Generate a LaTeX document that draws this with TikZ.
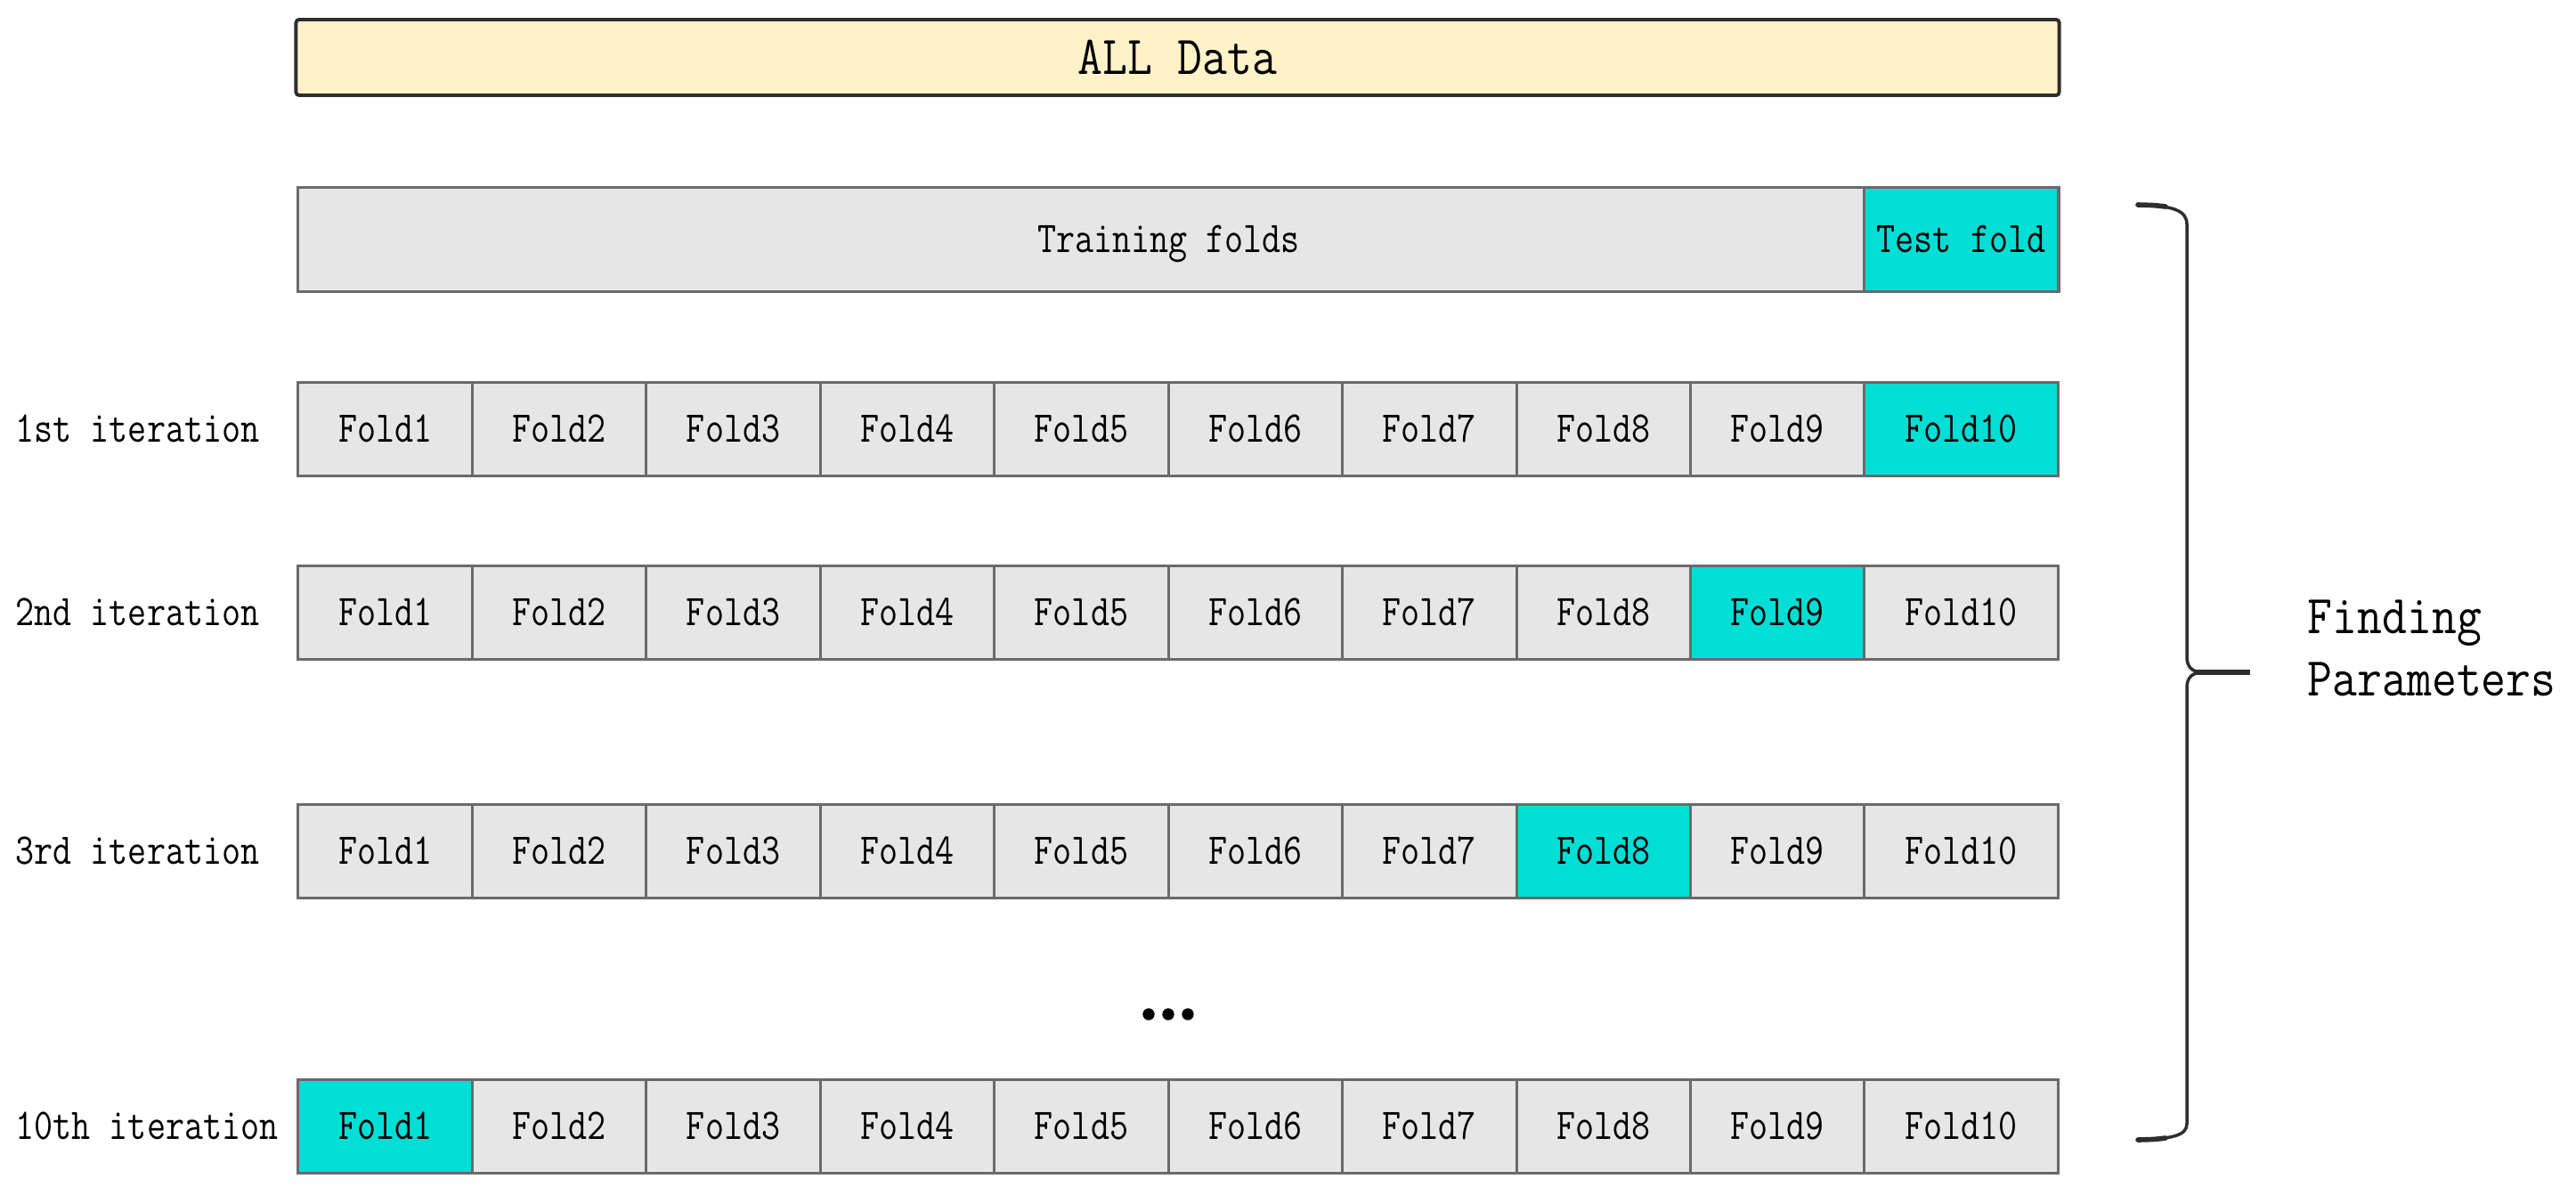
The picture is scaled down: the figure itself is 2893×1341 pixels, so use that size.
\documentclass[tikz,border=0pt]{standalone}
\usepackage{fontspec}
\usepackage{graphicx}
\definecolor{foldgray}{HTML}{E6E6E6}
\definecolor{edgegray}{HTML}{6A6A6A}
\definecolor{testcyan}{HTML}{00DED6}
\definecolor{alldatafill}{HTML}{FFF2C8}
\definecolor{inkdark}{HTML}{2E2E2E}
\newcommand{\ctxt}[1]{\scalebox{0.83}[1]{#1}}
\newcommand{\cbig}[1]{\scalebox{0.88}[1]{#1}}
\tikzset{
  txt/.style={font=\ttfamily\addfontfeature{FakeBold=0.7}\fontsize{14pt}{16pt}\selectfont, text height=8.5pt, text depth=0pt, inner sep=0pt},
  bigtxt/.style={font=\ttfamily\addfontfeature{FakeBold=0.5}\fontsize{17.5pt}{19.9pt}\selectfont, inner sep=0pt},
  cell/.style={txt, draw=edgegray, line width=0.85pt, minimum height=1.05cm, outer sep=0pt},
}
\begin{document}
\begin{tikzpicture}[x=0.01cm,y=-0.01cm]
\useasboundingbox (0,0) rectangle (2893,1341);
% All data
\node[bigtxt, text height=10.7pt, text depth=0pt, draw=inkdark, line width=1.1pt, rounded corners=1pt,
      fill=alldatafill, minimum width=19.79cm, minimum height=0.85cm] (all) at (1322.5,64.5) {\cbig{ALL Data}};
% Training / test folds
\node[cell, fill=foldgray, minimum width=19.77cm, minimum height=1.16cm] (train) at (1323.5,269) {\ctxt{Training folds}\hspace*{0.22cm}};
\node[cell, fill=testcyan, minimum width=2.17cm, minimum height=1.16cm] (testf) at (2202.5,269) {\ctxt{Test fold}};
% Iteration rows
\foreach \r/\yc/\hl/\lab in {1/482/10/1st iteration, 2/688/9/2nd iteration, 3/956/8/3rd iteration, 10/1265/1/10th iteration}{
  \node[txt, anchor=west] (lab\r) at (17,\yc) {\ctxt{\lab}};
  \foreach \i in {1,...,10}{
    \ifnum\i=\hl \def\fc{testcyan}\else \def\fc{foldgray}\fi
    \ifnum\i<10
      \pgfmathsetmacro{\xc}{335+(\i-0.5)*195.44}
      \node[cell, fill=\fc, minimum width=1.9544cm] (f\r-\i) at (\xc,\yc) {\ctxt{Fold\i}};
    \else
      \node[cell, fill=\fc, minimum width=2.17cm] (f\r-\i) at (2202.5,\yc) {\ctxt{Fold\i}};
    \fi
  }
}
% dots
\foreach \dx in {1290,1312,1334}{
  \fill[black] (\dx,1139) circle[radius=1.9pt];
}
% brace
\coordinate (btop) at (2401,230);
\coordinate (bbot) at (2401,1280);
\coordinate (btip) at (2527,755);
\draw[inkdark, line width=1pt, line cap=round]
  (btop) .. controls (2440,231) and (2456,236) .. (2456,252)
  -- (2456,738) .. controls (2456,749) and (2462,755) .. (2474,755)
  .. controls (2462,755) and (2456,761) .. (2456,772)
  -- (2456,1262) .. controls (2456,1275) and (2440,1279) .. (bbot);
\draw[inkdark, line width=1.7pt] (2466,755) -- (btip);
\draw[inkdark, line width=1.6pt, line cap=round] (btop) .. controls (2420,230.5) .. (2432,232);
\draw[inkdark, line width=1.6pt, line cap=round] (bbot) .. controls (2420,1279.5) .. (2432,1278);
% label
\node[bigtxt, align=left, anchor=west] (fp) at (2591,728) {\cbig{Finding}\\\cbig{Parameters}};
\end{tikzpicture}
\end{document}
